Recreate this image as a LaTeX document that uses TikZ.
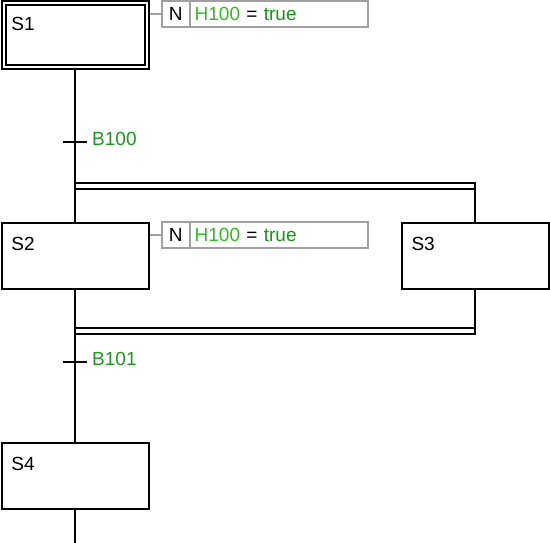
\documentclass[tikz,border=0pt]{standalone}
\usepackage{fontspec}
\setmainfont{Liberation Sans}
\usetikzlibrary{positioning}
\definecolor{actGray}{HTML}{A0A0A0}
\definecolor{varGreen}{HTML}{33BB22}
\definecolor{valGreen}{HTML}{119911}
\definecolor{condGreen}{HTML}{1A9A1A}
\tikzset{
  stepbox/.style ={rectangle,draw,line width=2pt,inner xsep=10pt,inner ysep=13.8pt,text width=127pt,text height=13.6pt,text depth=25.3pt,align=left},
  initstep/.style={stepbox,double,double distance=2pt,outer sep=3pt,inner xsep=8pt,inner ysep=13.7pt,text depth=23pt},
  qual/.style    ={rectangle,draw=actGray,line width=2pt,minimum width=28pt,minimum height=26pt,inner sep=0pt,outer sep=0pt,text height=13.6pt,text depth=0pt},
  actbox/.style  ={rectangle,draw=actGray,line width=2pt,minimum height=26pt,inner xsep=5pt,inner ysep=0pt,outer sep=0pt,text width=168.6pt,text height=13.6pt,text depth=0pt,align=left},
  trans/.style   ={rectangle,minimum width=24pt,minimum height=0pt,inner sep=0pt,outer sep=0pt},
  bar/.style     ={rectangle,minimum width=401pt,minimum height=6pt,inner sep=0pt,outer sep=0pt},
  cond/.style    ={text=condGreen,inner sep=0pt,label distance=5pt,yshift=2.4pt},
  link/.style    ={line width=2pt},
  tie/.style     ={line width=1.2pt,actGray},
}
\begin{document}
\begin{tikzpicture}[x=1pt,y=-1pt,font=\fontsize{19}{22}\selectfont]
  \useasboundingbox (0,0) rectangle (550,543);
  \node[initstep] (s1) at (75,35) {S1};
  \node[stepbox] (s2) at (75,256) {S2};
  \node[stepbox] (s3) at (475,256) {S3};
  \node[stepbox] (s4) at (75,476) {S4};

  \node[qual] (q1) at (175.7,14) {N};
  \node[actbox,right=0pt of q1] (a1) {\textcolor{varGreen}{H100} = \textcolor{valGreen}{true}};
  \node[qual] (q2) at (175.7,235) {N};
  \node[actbox,right=0pt of q2] (a2) {\textcolor{varGreen}{H100} = \textcolor{valGreen}{true}};
  \draw[tie] (s1.east |- q1.west) -- (q1.west);
  \draw[tie] (s2.east |- q2.west) -- (q2.west);

  \node[trans,label={[cond]right:B100}] (t1) at (75,141.7) {};
  \node[trans,label={[cond]right:B101}] (t2) at (75,361.7) {};
  \node[bar] (div) at (275.5,186.3) {};
  \node[bar] (conv) at (275.5,331.3) {};
  \coordinate (out) at (75,543);

  \draw[link] (div.north west) -- (div.north east) (div.south west) -- (div.south east);
  \draw[link] (conv.north west) -- (conv.north east) (conv.south west) -- (conv.south east);
  \draw[link] (t1.west) -- (t1.east);
  \draw[link] (t2.west) -- (t2.east);
  \draw[link] (s1.south) -- (s2.north);
  \draw[link] (s2.south) -- (s4.north);
  \draw[link] (s4.south) -- (out);
  \draw[link] (s3.north |- div.north) -- (s3.north);
  \draw[link] (s3.south) -- (s3.south |- conv.south);
\end{tikzpicture}
\end{document}
